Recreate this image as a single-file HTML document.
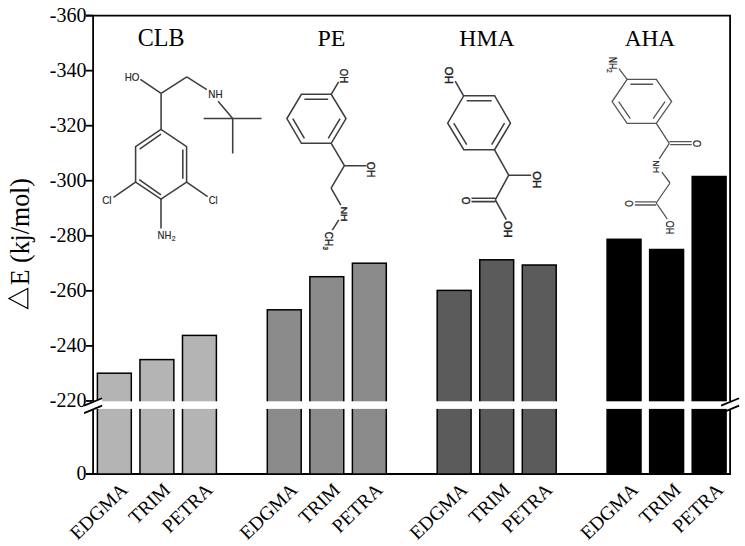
<!DOCTYPE html><html><head><meta charset="utf-8"><style>
html,body{margin:0;padding:0;background:#fff;}svg{display:block;}text{font-kerning:none;}
</style></head><body>
<svg width="745" height="546" viewBox="0 0 745 546">
<rect x="0" y="0" width="745" height="546" fill="#fff"/>
<path d="M161 129.4L135.6 146.6L135.6 182.1L161 199.1L186.6 182.1L186.6 146.6Z" fill="none" stroke="#3e3e42" stroke-width="1.55" stroke-linejoin="miter"/>
<path d="M140.4 79.3L161.1 93.4M161.1 93.4L186.8 76.8M186.8 76.8L206.8 89.6M218.1 101.3L232.7 118.5M203.6 118.5L261.6 118.5M232.7 118.5L232.7 153.5M161.1 93.4L161.1 129.4M139.6 149.1L161 134.1M139.2 179.6L161 194.8M182.8 149.6L182.8 178.7M135.6 182.1L113.5 197.4M186.6 182.1L207.6 196.6M161 199.1L161 228.5" fill="none" stroke="#3e3e42" stroke-width="1.55" stroke-linecap="butt"/>
<text transform="translate(124.65,80.54) scale(0.866,1)" font-family='"Liberation Sans",sans-serif' font-size="11.30" fill="#222" stroke="#222" stroke-width="0.15">HO</text>
<text transform="translate(208.24,97.75) scale(0.961,1)" font-family='"Liberation Sans",sans-serif' font-size="10.32" fill="#222" stroke="#222" stroke-width="0.15">NH</text>
<text transform="translate(102.15,203.84) scale(0.867,1)" font-family='"Liberation Sans",sans-serif' font-size="11.44" fill="#222" stroke="#222" stroke-width="0.15">Cl</text>
<text transform="translate(208.67,203.64) scale(0.855,1)" font-family='"Liberation Sans",sans-serif' font-size="11.03" fill="#222" stroke="#222" stroke-width="0.15">Cl</text>
<text transform="translate(157.57,238.95) scale(0.898,1)" font-family='"Liberation Sans",sans-serif' font-size="10.61" fill="#222" stroke="#222" stroke-width="0.15">NH</text>
<text transform="translate(171.81,241.25) scale(1.011,1)" font-family='"Liberation Sans",sans-serif' font-size="6.73" fill="#222" stroke="#222" stroke-width="0.15">2</text>
<path d="M301.4 94.3L331.2 94.3L346 118.6L331.2 143.3L301.4 143.3L286.9 118.6Z" fill="none" stroke="#3e3e42" stroke-width="1.55" stroke-linejoin="miter"/>
<path d="M304.38 99.2L328.21999999999997 99.2M340.06 118.64L328.21999999999997 138.4M304.38 138.4L292.78 118.64M331.2 94.3L338.6 81.8M331.2 143.3L344.4 165.7M344.4 165.7L366.5 165.7M344.4 165.7L331.1 188.1M331.1 188.1L340.8 205.2M338.8 219.8L332.3 230.1" fill="none" stroke="#3e3e42" stroke-width="1.55" stroke-linecap="butt"/>
<text transform="translate(340.16,68.69) rotate(90) scale(0.852,1)" font-family='"Liberation Sans",sans-serif' font-size="11.30" fill="#222" stroke="#222" stroke-width="0.35">OH</text>
<text transform="translate(367.25,161.86) rotate(90) scale(0.991,1)" font-family='"Liberation Sans",sans-serif' font-size="10.45" fill="#222" stroke="#222" stroke-width="0.35">OH</text>
<text transform="translate(340.55,206.38) rotate(90) scale(1.090,1)" font-family='"Liberation Sans",sans-serif' font-size="9.74" fill="#222" stroke="#222" stroke-width="0.35">NH</text>
<text transform="translate(325.36,231.85) rotate(90) scale(0.859,1)" font-family='"Liberation Sans",sans-serif' font-size="11.44" fill="#222" stroke="#222" stroke-width="0.35">CH</text>
<text transform="translate(322.92,246.42) rotate(90) scale(0.866,1)" font-family='"Liberation Sans",sans-serif' font-size="7.06" fill="#222" stroke="#222" stroke-width="0.35">3</text>
<path d="M463.8 95.7L494.6 95.7L510.5 123.2L494.6 149.7L463.8 149.7L447.7 123.2Z" fill="none" stroke="#3e3e42" stroke-width="1.55" stroke-linejoin="miter"/>
<path d="M466.726 100.83L491.67400000000004 100.83M504.553 123.105L491.67400000000004 144.57M466.726 144.57L453.685 123.105M463.6 95.9L455.2 81.2M494.4 149.6L508.7 175.2M508.7 175.2L531.2 175.2M508.7 175.2L495.3 199.8M495.3 198.2L471.5 198.2M495.3 201.6L471.5 201.6M495.3 199.8L506.3 219.7" fill="none" stroke="#3e3e42" stroke-width="1.55" stroke-linecap="butt"/>
<text transform="translate(445.06,66.81) rotate(90) scale(0.977,1)" font-family='"Liberation Sans",sans-serif' font-size="11.72" fill="#222" stroke="#222" stroke-width="0.45">OH</text>
<text transform="translate(533.46,171.22) rotate(90) scale(0.970,1)" font-family='"Liberation Sans",sans-serif' font-size="11.58" fill="#222" stroke="#222" stroke-width="0.45">OH</text>
<text transform="translate(461.65,196.68) rotate(90) scale(0.953,1)" font-family='"Liberation Sans",sans-serif' font-size="10.45" fill="#222" stroke="#222" stroke-width="0.45">O</text>
<text transform="translate(504.45,221.12) rotate(90) scale(1.040,1)" font-family='"Liberation Sans",sans-serif' font-size="10.73" fill="#222" stroke="#222" stroke-width="0.45">OH</text>
<path d="M627.1 79.4L656.3 79.4L671.6 101.6L656.3 123.4L627.1 123.4L612.1 101.6Z" fill="none" stroke="#555558" stroke-width="1.3" stroke-linejoin="miter"/>
<path d="M630.3340000000001 84.262L653.1099999999999 84.262M665.044 101.57799999999999L653.1099999999999 118.58200000000001M630.3340000000001 118.58200000000001L618.634 101.57799999999999M627.1 79.4L619 68.7M656.3 123.4L669.3 143.3M669.5 141.7L691.7 141.7M670.2 144.6L691.7 144.6M669.3 143.3L659.2 158.8M661.9 172.1L670 183M670 183L656.2 203M656.2 201.9L634.9 201.9M656.2 205L634.9 205M656.2 203L667.2 218.8" fill="none" stroke="#555558" stroke-width="1.3" stroke-linecap="butt"/>
<text transform="translate(609.35,56.73) rotate(90) scale(0.847,1)" font-family='"Liberation Sans",sans-serif' font-size="10.32" fill="#222" stroke="#222" stroke-width="0.2">NH</text>
<text transform="translate(606.65,69.02) rotate(90) scale(0.958,1)" font-family='"Liberation Sans",sans-serif' font-size="6.87" fill="#222" stroke="#222" stroke-width="0.2">2</text>
<text transform="translate(692.66,139.91) rotate(90) scale(0.827,1)" font-family='"Liberation Sans",sans-serif' font-size="11.16" fill="#222" stroke="#222" stroke-width="0.2">O</text>
<text transform="translate(652.65,160.33) rotate(90) scale(0.898,1)" font-family='"Liberation Sans",sans-serif' font-size="9.74" fill="#222" stroke="#222" stroke-width="0.2">NH</text>
<text transform="translate(625.26,200.35) rotate(90) scale(0.771,1)" font-family='"Liberation Sans",sans-serif' font-size="11.02" fill="#222" stroke="#222" stroke-width="0.2">O</text>
<text transform="translate(665.56,220.72) rotate(90) scale(0.771,1)" font-family='"Liberation Sans",sans-serif' font-size="11.72" fill="#222" stroke="#222" stroke-width="0.2">OH</text>
<path d="M86 15.6H730.1V474.0H86" fill="none" stroke="#000" stroke-width="1.8"/>
<path d="M93.1 15.6V474.0" fill="none" stroke="#000" stroke-width="1.8"/>
<path d="M86 15.60H93.1" stroke="#000" stroke-width="1.8"/>
<path d="M86 70.65H93.1" stroke="#000" stroke-width="1.8"/>
<path d="M86 125.70H93.1" stroke="#000" stroke-width="1.8"/>
<path d="M86 180.75H93.1" stroke="#000" stroke-width="1.8"/>
<path d="M86 235.80H93.1" stroke="#000" stroke-width="1.8"/>
<path d="M86 290.85H93.1" stroke="#000" stroke-width="1.8"/>
<path d="M86 345.90H93.1" stroke="#000" stroke-width="1.8"/>
<path d="M86 400.95H93.1" stroke="#000" stroke-width="1.8"/>
<polygon points="721.1,405.6 739.1,398.2 739.1,405.6 721.1,413.1" fill="#fff"/>
<rect x="97.40" y="373.20" width="33.90" height="100.80" fill="#b4b4b4" stroke="#000" stroke-width="1.5"/>
<rect x="139.95" y="359.60" width="33.90" height="114.40" fill="#b4b4b4" stroke="#000" stroke-width="1.5"/>
<rect x="182.50" y="335.40" width="33.90" height="138.60" fill="#b4b4b4" stroke="#000" stroke-width="1.5"/>
<rect x="267.30" y="309.80" width="33.90" height="164.20" fill="#8b8b8b" stroke="#000" stroke-width="1.5"/>
<rect x="309.85" y="276.70" width="33.90" height="197.30" fill="#8b8b8b" stroke="#000" stroke-width="1.5"/>
<rect x="352.40" y="263.20" width="33.90" height="210.80" fill="#8b8b8b" stroke="#000" stroke-width="1.5"/>
<rect x="437.20" y="290.40" width="33.90" height="183.60" fill="#5b5b5b" stroke="#000" stroke-width="1.5"/>
<rect x="479.75" y="259.80" width="33.90" height="214.20" fill="#5b5b5b" stroke="#000" stroke-width="1.5"/>
<rect x="522.30" y="265.00" width="33.90" height="209.00" fill="#5b5b5b" stroke="#000" stroke-width="1.5"/>
<rect x="607.10" y="239.30" width="33.90" height="234.70" fill="#000000" stroke="#000" stroke-width="1.5"/>
<rect x="649.65" y="249.50" width="33.90" height="224.50" fill="#000000" stroke="#000" stroke-width="1.5"/>
<rect x="692.20" y="176.50" width="33.90" height="297.50" fill="#000000" stroke="#000" stroke-width="1.5"/>
<rect x="92.1" y="401.3" width="639.0" height="7.60" fill="#fff"/>
<polygon points="84.1,405.6 102.1,398.2 102.1,405.6 84.1,413.1" fill="#fff"/>
<path d="M84.1 405.6L102.1 398.2M84.1 413.1L102.1 405.6" stroke="#000" stroke-width="1.7"/>
<path d="M721.1 405.6L739.1 398.2M721.1 413.1L739.1 405.6" stroke="#000" stroke-width="1.7"/>
<text font-family='"Liberation Serif",serif' x="86.5" y="21.60" font-size="20" text-anchor="end">-360</text>
<text font-family='"Liberation Serif",serif' x="86.5" y="76.65" font-size="20" text-anchor="end">-340</text>
<text font-family='"Liberation Serif",serif' x="86.5" y="131.70" font-size="20" text-anchor="end">-320</text>
<text font-family='"Liberation Serif",serif' x="86.5" y="186.75" font-size="20" text-anchor="end">-300</text>
<text font-family='"Liberation Serif",serif' x="86.5" y="241.80" font-size="20" text-anchor="end">-280</text>
<text font-family='"Liberation Serif",serif' x="86.5" y="296.85" font-size="20" text-anchor="end">-260</text>
<text font-family='"Liberation Serif",serif' x="86.5" y="351.90" font-size="20" text-anchor="end">-240</text>
<text font-family='"Liberation Serif",serif' x="86.5" y="406.95" font-size="20" text-anchor="end">-220</text>
<text font-family='"Liberation Serif",serif' x="86.5" y="480.00" font-size="20" text-anchor="end">0</text>
<path d="M27.8 288.4L27.8 308.6L8.9 298.5Z" fill="none" stroke="#000" stroke-width="1.2" stroke-linejoin="miter"/>
<text transform="translate(28.68,285.30) rotate(-90) scale(0.960,1)" font-family='"Liberation Serif",serif' font-size="27.00" >E (kj/mol)</text>
<text transform="translate(137.66,45.91) scale(0.987,1)" font-family='"Liberation Serif",serif' font-size="24.41" >CLB</text>
<text transform="translate(317.46,45.85) scale(1.000,1)" font-family='"Liberation Serif",serif' font-size="23.98" >PE</text>
<text transform="translate(459.37,45.85) scale(0.994,1)" font-family='"Liberation Serif",serif' font-size="23.78" >HMA</text>
<text transform="translate(624.72,45.85) scale(0.980,1)" font-family='"Liberation Serif",serif' font-size="23.78" >AHA</text>
<text font-family='"Liberation Serif",serif' transform="translate(128.85,491.2) rotate(-44)" font-size="19.5" text-anchor="end">EDGMA</text>
<text font-family='"Liberation Serif",serif' transform="translate(171.40,491.2) rotate(-44)" font-size="19.5" text-anchor="end">TRIM</text>
<text font-family='"Liberation Serif",serif' transform="translate(213.95,491.2) rotate(-44)" font-size="19.5" text-anchor="end">PETRA</text>
<text font-family='"Liberation Serif",serif' transform="translate(298.75,491.2) rotate(-44)" font-size="19.5" text-anchor="end">EDGMA</text>
<text font-family='"Liberation Serif",serif' transform="translate(341.30,491.2) rotate(-44)" font-size="19.5" text-anchor="end">TRIM</text>
<text font-family='"Liberation Serif",serif' transform="translate(383.85,491.2) rotate(-44)" font-size="19.5" text-anchor="end">PETRA</text>
<text font-family='"Liberation Serif",serif' transform="translate(468.65,491.2) rotate(-44)" font-size="19.5" text-anchor="end">EDGMA</text>
<text font-family='"Liberation Serif",serif' transform="translate(511.20,491.2) rotate(-44)" font-size="19.5" text-anchor="end">TRIM</text>
<text font-family='"Liberation Serif",serif' transform="translate(553.75,491.2) rotate(-44)" font-size="19.5" text-anchor="end">PETRA</text>
<text font-family='"Liberation Serif",serif' transform="translate(639.35,491.2) rotate(-44)" font-size="19.5" text-anchor="end">EDGMA</text>
<text font-family='"Liberation Serif",serif' transform="translate(681.90,491.2) rotate(-44)" font-size="19.5" text-anchor="end">TRIM</text>
<text font-family='"Liberation Serif",serif' transform="translate(724.45,491.2) rotate(-44)" font-size="19.5" text-anchor="end">PETRA</text>
</svg></body></html>
